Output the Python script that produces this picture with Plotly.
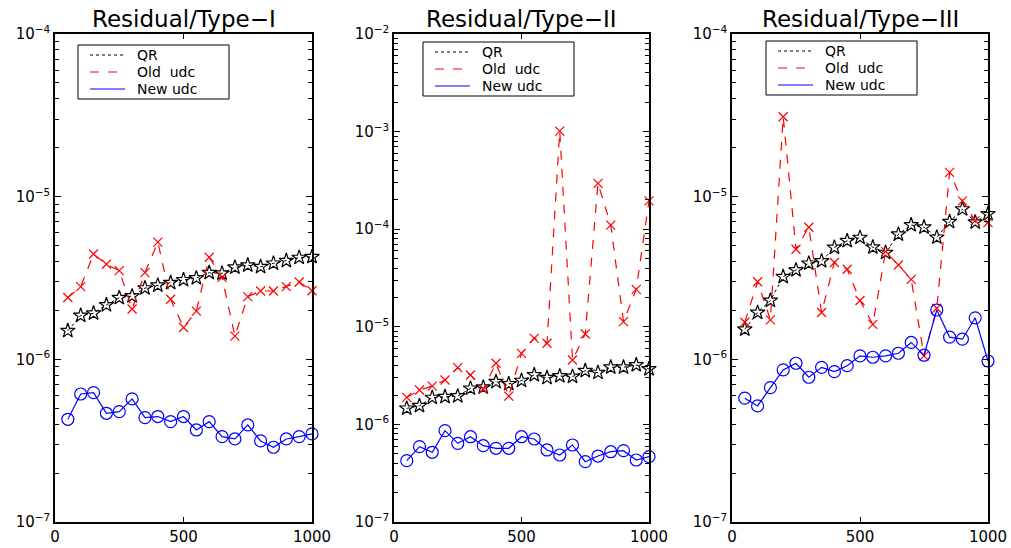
import plotly.graph_objects as go
from plotly.subplots import make_subplots

# ---------------- data ----------------
n_vals = [50, 100, 150, 200, 250, 300, 350, 400, 450, 500,
          550, 600, 650, 700, 750, 800, 850, 900, 950, 1000]

titles = ["Residual/Type\u2212I", "Residual/Type\u2212II", "Residual/Type\u2212III"]
series_names = ["QR", "Old\u00a0\u00a0udc", "New udc"]

p1_qr = [1.50e-6, 1.86e-6, 1.92e-6, 2.16e-6, 2.39e-6, 2.45e-6, 2.74e-6, 2.85e-6, 2.96e-6, 3.08e-6,
         3.16e-6, 3.41e-6, 3.38e-6, 3.68e-6, 3.79e-6, 3.71e-6, 3.89e-6, 4.04e-6, 4.22e-6, 4.27e-6]
p1_old = [2.40e-6, 2.80e-6, 4.44e-6, 3.84e-6, 3.51e-6, 2.04e-6, 3.41e-6, 5.25e-6, 2.34e-6, 1.57e-6,
          1.98e-6, 4.24e-6, 3.19e-6, 1.39e-6, 2.43e-6, 2.63e-6, 2.63e-6, 2.80e-6, 2.99e-6, 2.64e-6]
p1_new = [4.28e-7, 6.12e-7, 6.24e-7, 4.66e-7, 4.77e-7, 5.71e-7, 4.38e-7, 4.45e-7, 4.14e-7, 4.45e-7,
          3.68e-7, 4.14e-7, 3.35e-7, 3.24e-7, 3.95e-7, 3.15e-7, 2.88e-7, 3.24e-7, 3.35e-7, 3.48e-7]

p2_qr = [1.46e-6, 1.55e-6, 1.88e-6, 1.92e-6, 1.95e-6, 2.34e-6, 2.40e-6, 2.74e-6, 2.60e-6, 2.81e-6,
         3.21e-6, 3.01e-6, 3.13e-6, 3.09e-6, 3.55e-6, 3.39e-6, 3.85e-6, 3.85e-6, 4.06e-6, 3.70e-6]
p2_old = [1.89e-6, 2.25e-6, 2.47e-6, 2.85e-6, 3.81e-6, 3.21e-6, 2.29e-6, 4.23e-6, 1.95e-6, 5.35e-6,
          7.62e-6, 6.78e-6, 1.01e-3, 4.57e-6, 8.43e-6, 2.95e-4, 1.10e-4, 1.13e-5, 2.42e-5, 1.95e-4]
p2_new = [4.25e-7, 5.91e-7, 5.18e-7, 8.63e-7, 6.40e-7, 7.48e-7, 6.05e-7, 5.69e-7, 5.69e-7, 7.48e-7,
          7.09e-7, 5.47e-7, 4.86e-7, 6.15e-7, 4.15e-7, 4.74e-7, 5.25e-7, 5.38e-7, 4.32e-7, 4.67e-7]

p3_qr = [1.53e-6, 1.94e-6, 2.30e-6, 3.22e-6, 3.54e-6, 3.89e-6, 4.02e-6, 4.87e-6, 5.35e-6, 5.60e-6,
         4.89e-6, 4.53e-6, 5.87e-6, 6.70e-6, 6.49e-6, 5.62e-6, 7.02e-6, 8.38e-6, 6.97e-6, 7.83e-6]
p3_old = [1.69e-6, 3.00e-6, 1.75e-6, 3.10e-5, 4.75e-6, 6.49e-6, 1.94e-6, 3.94e-6, 3.58e-6, 2.30e-6,
          1.64e-6, 4.59e-6, 3.80e-6, 3.10e-6, 1.05e-6, 2.06e-6, 1.41e-5, 9.42e-6, 7.13e-6, 6.92e-6]
p3_new = [5.77e-7, 5.17e-7, 6.70e-7, 8.61e-7, 9.46e-7, 7.76e-7, 8.93e-7, 8.40e-7, 9.14e-7, 1.05e-6,
          1.03e-6, 1.05e-6, 1.09e-6, 1.27e-6, 1.06e-6, 2.01e-6, 1.37e-6, 1.33e-6, 1.80e-6, 9.77e-7]

x_ticks = [0, 500, 1000]
x_ticktext = ["0", "500", "1000"]
y_exp_1 = [-7, -6, -5, -4]
y_exp_2 = [-7, -6, -5, -4, -3, -2]
y_exp_3 = [-7, -6, -5, -4]

panels = [
    (p1_qr, p1_old, p1_new, y_exp_1),
    (p2_qr, p2_old, p2_new, y_exp_2),
    (p3_qr, p3_old, p3_new, y_exp_3),
]

# ---------------- styling ----------------
W, H = 1011, 548
FONT = "DejaVu Sans"
x_dom_px = [(55, 312), (394, 649), (732, 988)]
y_dom = [1 - 522 / H, 1 - 34 / H]
legend_box_px = [(78, 45), (423, 42), (766, 41)]   # top-left corner of each legend box
LEG_W, LEG_H = 151, 54
row_off = [10.0, 27.0, 44.0]

styles = [
    dict(color="black", dash="dot", symbol="star-open", msize=11, lw=1),
    dict(color="red", dash="dash", symbol="x-thin-open", msize=9, lw=1.2),
    dict(color="blue", dash="solid", symbol="circle-open", msize=12, lw=1.2),
]

fig = make_subplots(rows=1, cols=3)

shapes = []
annotations = []

for i, (qr, old, new, yexp) in enumerate(panels):
    col = i + 1
    for s, (vals, name) in enumerate(zip([qr, old, new], series_names)):
        st = styles[s]
        fig.add_trace(go.Scatter(
            x=n_vals, y=vals, mode="lines+markers", name=name,
            line=dict(color=st["color"], dash=st["dash"], width=st["lw"]),
            marker=dict(symbol=st["symbol"], size=st["msize"],
                        color=st["color"], line=dict(color=st["color"], width=1.2)),
            cliponaxis=False, showlegend=False, hoverinfo="skip"), row=1, col=col)

    xa = "xaxis" if i == 0 else f"xaxis{i+1}"
    ya = "yaxis" if i == 0 else f"yaxis{i+1}"
    x0, x1 = x_dom_px[i]
    minor_vals = [m * 10.0 ** e for e in yexp[:-1] for m in range(2, 10)]
    fig.layout[xa].update(
        domain=[x0 / W, x1 / W], range=[0, 1000], tickvals=x_ticks, ticktext=x_ticktext,
        ticks="inside", ticklen=5, tickcolor="black", tickwidth=1, showline=True,
        linecolor="black", linewidth=1.5, mirror="ticks", showgrid=False, zeroline=False,
        tickfont=dict(family=FONT, size=15, color="black"), automargin=False)
    fig.layout[ya].update(
        domain=y_dom, type="log", range=[yexp[0], yexp[-1]],
        tickvals=[10.0 ** e for e in yexp],
        ticktext=[f"10<sup>\u2212{-e}</sup>" for e in yexp],
        ticks="inside", ticklen=6, tickcolor="black", tickwidth=1, showline=True,
        linecolor="black", linewidth=1.5, mirror="ticks", showgrid=False, zeroline=False,
        minor=dict(tickmode="array", tickvals=minor_vals, ticks="inside", ticklen=4,
                   tickcolor="black", tickwidth=1, showgrid=False),
        tickfont=dict(family=FONT, size=15, color="black"), automargin=False)

    # legend drawn as a box with line samples (line style only, as in the reference)
    bx, by = legend_box_px[i]
    shapes.append(dict(type="rect", xref="paper", yref="paper",
                       x0=bx / W, x1=(bx + LEG_W) / W, y0=1 - (by + LEG_H) / H, y1=1 - by / H,
                       line=dict(color="black", width=1), fillcolor="white", layer="above"))
    for s, name in enumerate(series_names):
        st = styles[s]
        ry = 1 - (by + row_off[s]) / H
        shapes.append(dict(type="line", xref="paper", yref="paper",
                           x0=(bx + 12) / W, x1=(bx + 47) / W, y0=ry, y1=ry,
                           line=dict(color=st["color"], dash=st["dash"], width=1),
                           layer="above"))
        annotations.append(dict(text=name, xref="paper", yref="paper",
                                x=(bx + 58) / W, y=ry, xanchor="left", yanchor="middle",
                                showarrow=False, borderpad=0,
                                font=dict(family=FONT, size=14, color="black")))

    annotations.append(dict(
        text=titles[i], xref="paper", yref="paper",
        x=(x0 + x1) / 2 / W, y=1 - 19 / H, xanchor="center", yanchor="middle",
        showarrow=False, font=dict(family=FONT, size=23, color="black")))

fig.update_layout(
    width=W, height=H, margin=dict(l=0, r=0, t=0, b=0),
    paper_bgcolor="white", plot_bgcolor="white",
    font=dict(family=FONT, color="black"),
    showlegend=False, shapes=shapes, annotations=annotations)

fig.write_html("out.html", config={"displayModeBar": False},
               post_script="document.body.style.margin='0';")
